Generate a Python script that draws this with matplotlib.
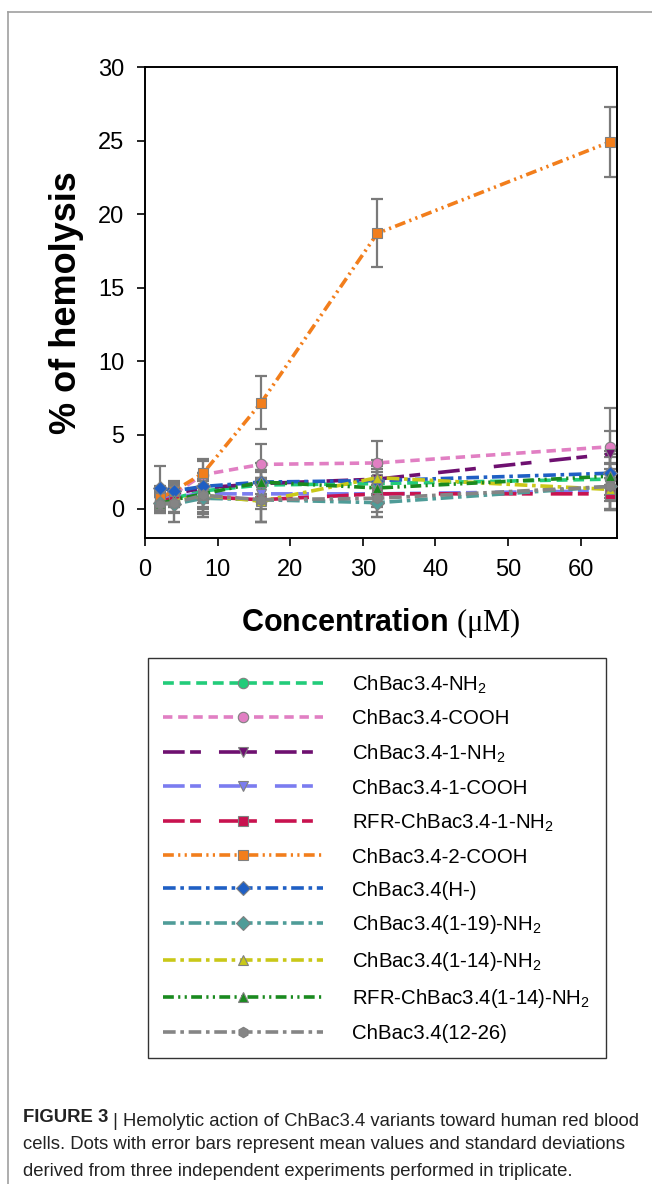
import matplotlib
matplotlib.use("Agg")
import matplotlib.pyplot as plt
from matplotlib.lines import Line2D

plt.rcParams["font.family"] = ["Liberation Sans", "DejaVu Sans"]
plt.rcParams["mathtext.fontset"] = "custom"
plt.rcParams["mathtext.rm"] = "Liberation Serif"

# concentration in uM
conc = [2, 4, 8, 16, 32, 64]

names = [
    "ChBac3.4-NH$_\\mathregular{2}$",
    "ChBac3.4-COOH",
    "ChBac3.4-1-NH$_\\mathregular{2}$",
    "ChBac3.4-1-COOH",
    "RFR-ChBac3.4-1-NH$_\\mathregular{2}$",
    "ChBac3.4-2-COOH",
    "ChBac3.4(H-)",
    "ChBac3.4(1-19)-NH$_\\mathregular{2}$",
    "ChBac3.4(1-14)-NH$_\\mathregular{2}$",
    "RFR-ChBac3.4(1-14)-NH$_\\mathregular{2}$",
    "ChBac3.4(12-26)",
]

means = [
    [0.5, 0.7, 1.2, 1.6, 1.7, 2.0],
    [0.8, 1.0, 2.3, 3.0, 3.1, 4.2],
    [0.9, 1.0, 1.4, 1.7, 2.0, 3.7],
    [0.6, 0.8, 1.0, 1.0, 1.0, 1.2],
    [0.5, 0.7, 0.8, 0.6, 1.0, 1.0],
    [0.7, 1.2, 2.4, 7.2, 18.7, 24.9],
    [1.4, 1.2, 1.5, 1.8, 1.9, 2.4],
    [0.4, 0.3, 0.7, 0.6, 0.4, 1.5],
    [0.3, 0.5, 0.9, 0.5, 2.1, 1.3],
    [0.3, 0.6, 1.0, 1.8, 1.4, 2.2],
    [0.3, 0.4, 0.9, 0.6, 0.7, 1.5],
]

sds = [
    [0.5, 0.6, 0.8, 0.9, 1.0, 1.5],
    [0.6, 0.6, 0.9, 1.4, 1.5, 2.6],
    [0.6, 0.6, 0.8, 0.9, 1.0, 1.6],
    [0.6, 0.7, 0.9, 1.0, 0.9, 1.2],
    [0.6, 0.9, 1.2, 1.5, 1.2, 1.1],
    [0.6, 0.7, 1.0, 1.8, 2.3, 2.4],
    [1.5, 0.6, 0.9, 0.8, 1.0, 1.5],
    [0.7, 1.2, 1.3, 1.5, 1.0, 1.5],
    [0.5, 0.8, 1.1, 1.4, 1.2, 1.4],
    [0.5, 0.8, 1.0, 1.3, 1.1, 1.5],
    [0.6, 1.3, 1.5, 1.5, 1.3, 1.6],
]

colors = ["#22cc7a", "#e17fc3", "#6e1070", "#7b7cf0", "#c8124f", "#f27e1c",
          "#1f5fc4", "#4f9c98", "#c9c818", "#1a8a1f", "#858585"]
markers = ["o", "o", "v", "v", "s", "s", "D", "D", "^", "^", "h"]
long_dash = (0, (6, 1.5, 3, 5))
dash_dot = (0, (3.5, 1.3, 1, 1.3))
dash_dot_dot = (0, (3, 1.2, 0.6, 1.2, 0.6, 1.2))
styles = [(0, (3, 1.6)), (0, (2.6, 1.6)), long_dash, long_dash, long_dash,
          dash_dot_dot, dash_dot, dash_dot, dash_dot, dash_dot_dot, dash_dot]

fig = plt.figure(figsize=(6.52, 11.84), dpi=100)
ax = fig.add_axes([145 / 652, 1 - 538 / 1184, 472 / 652, 471 / 1184])

handles = []
for i in range(len(names)):
    ax.errorbar(conc, means[i], yerr=sds[i], fmt="none", ecolor="#7a7a7a",
                elinewidth=1.6, capsize=4, capthick=1.6, zorder=2)
    h, = ax.plot(conc, means[i], color=colors[i], linestyle=styles[i], lw=2.6,
                 marker=markers[i], markersize=7.5, markerfacecolor=colors[i],
                 markeredgecolor="#808080", markeredgewidth=0.8, zorder=3,
                 label=names[i])
    handles.append(h)

ax.set_xlim(0, 65)
ax.set_ylim(-2, 30)
ax.set_xticks([0, 10, 20, 30, 40, 50, 60])
ax.set_yticks([0, 5, 10, 15, 20, 25, 30])
ax.tick_params(labelsize=17, length=6, width=1.2, pad=9)
for s in ax.spines.values():
    s.set_linewidth(1.4)

ax.set_ylabel("% of hemolysis", fontsize=26, fontweight="bold", labelpad=10)
ax.set_xlabel("Concentration $\\mathrm{(\\mu M)}$", fontsize=22,
              fontweight="bold", labelpad=18)

leg = fig.legend(handles=handles, loc="upper left",
                 bbox_to_anchor=(148 / 652, 1 - 658 / 1184),
                 frameon=True, fancybox=False, fontsize=14.7,
                 handlelength=7.8, handletextpad=1.45, labelspacing=0.68,
                 borderpad=0.75, borderaxespad=0, numpoints=1)
leg.get_frame().set_edgecolor("black")
leg.get_frame().set_linewidth(1.0)

# page frame
fig.add_artist(Line2D([8 / 652, 1], [1 - 12 / 1184] * 2, color="#a0a0a0", lw=1.2))
fig.add_artist(Line2D([8 / 652] * 2, [0, 1 - 12 / 1184], color="#a0a0a0", lw=1.2))

# caption
cap_size = 13.3
t1 = fig.text(23 / 652, 1 - 1122 / 1184, "FIGURE 3", fontsize=cap_size,
              fontweight="bold", color="#222222")
ax.annotate(" | Hemolytic action of ChBac3.4 variants toward human red blood",
            xy=(1, 0), xycoords=t1, fontsize=cap_size, color="#222222",
            annotation_clip=False)
fig.text(23 / 652, 1 - 1149 / 1184,
         "cells. Dots with error bars represent mean values and standard deviations",
         fontsize=cap_size, color="#222222")
fig.text(23 / 652, 1 - 1176 / 1184,
         "derived from three independent experiments performed in triplicate.",
         fontsize=cap_size, color="#222222")

fig.savefig("out.png", dpi=100)
